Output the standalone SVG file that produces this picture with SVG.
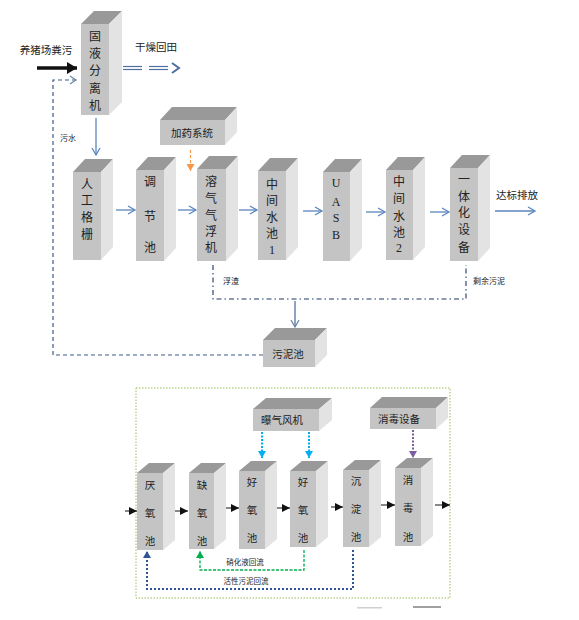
<svg xmlns="http://www.w3.org/2000/svg" width="579" height="620" viewBox="0 0 579 620">
<defs>
<style>
.f{fill:#c4c4c4}
.t{fill:#999999}
.s{fill:#e3e3e3}
text{font-family:"Liberation Sans","Noto Sans CJK SC",sans-serif;fill:#222;text-anchor:middle}
.c{font-size:12px}
.cb{font-size:10.5px}
.sm{font-size:8px}
.ser{font-family:"Liberation Serif","Noto Sans CJK SC",serif;font-size:12px}
.blue{stroke:#5b86bf;stroke-width:1.3;fill:none}
</style>
<marker id="open" markerWidth="10" markerHeight="10" refX="8" refY="5" orient="auto" markerUnits="userSpaceOnUse">
<path d="M1,1 L8,5 L1,9" fill="none" stroke="#5b86bf" stroke-width="1.3"/>
</marker>
<marker id="openS" markerWidth="10" markerHeight="10" refX="8" refY="5" orient="auto" markerUnits="userSpaceOnUse">
<path d="M1,1 L8,5 L1,9" fill="none" stroke="#6a85aa" stroke-width="1.3"/>
</marker>
<marker id="blk" markerWidth="10" markerHeight="8" refX="8" refY="4" orient="auto" markerUnits="userSpaceOnUse">
<path d="M0,0 L8,4 L0,8 Z" fill="#111"/>
</marker>
<marker id="bigblk" markerWidth="12" markerHeight="12" refX="10" refY="6" orient="auto" markerUnits="userSpaceOnUse">
<path d="M0,0 L10,6 L0,12 Z" fill="#111"/>
</marker>
<marker id="org" markerWidth="10" markerHeight="8" refX="4" refY="7" orient="0" markerUnits="userSpaceOnUse">
<path d="M0,0 L4,7 L8,0 Z" fill="#f79646"/>
</marker>
<marker id="cyan" markerWidth="10" markerHeight="8" refX="4" refY="7" orient="0" markerUnits="userSpaceOnUse">
<path d="M0,0 L4,7 L8,0 Z" fill="#00b0f0"/>
</marker>
<marker id="purp" markerWidth="10" markerHeight="8" refX="4" refY="7" orient="0" markerUnits="userSpaceOnUse">
<path d="M0,0 L4,7 L8,0 Z" fill="#7b5fa0"/>
</marker>
<marker id="grn" markerWidth="10" markerHeight="8" refX="4" refY="1" orient="0" markerUnits="userSpaceOnUse">
<path d="M0,8 L4,1 L8,8 Z" fill="#00b050"/>
</marker>
<marker id="nav" markerWidth="10" markerHeight="8" refX="4" refY="1" orient="0" markerUnits="userSpaceOnUse">
<path d="M0,8 L4,1 L8,8 Z" fill="#2f5597"/>
</marker>
</defs>

<!-- bottom frame -->
<rect x="136" y="388" width="314" height="210" fill="none" stroke="#9bbb59" stroke-width="1" stroke-dasharray="1.5,1.5"/>

<g id="connectors">
<!-- top inputs -->
<line x1="37" y1="68" x2="77" y2="68" stroke="#111" stroke-width="3.5" marker-end="url(#bigblk)"/>
<polyline points="270,355 53,355 53,80 76,80" fill="none" stroke="#3d5a85" stroke-width="1.2" stroke-dasharray="4,3"/>
<path d="M70,76 L76,80 L70,84" fill="none" stroke="#6a85aa" stroke-width="1.2"/>
<g stroke="#4f6f9f" stroke-width="1.2">
<line x1="123" y1="66.5" x2="142" y2="66.5"/><line x1="123" y1="69.5" x2="142" y2="69.5"/>
<line x1="149" y1="66.5" x2="168" y2="66.5"/><line x1="149" y1="69.5" x2="168" y2="69.5"/>
</g>
<path d="M172,63 L179,68 L172,73" fill="none" stroke="#4f6f9f" stroke-width="2"/>
<line x1="96" y1="118" x2="96" y2="155" class="blue" marker-end="url(#open)"/>
<line x1="190.5" y1="150" x2="190.5" y2="171" stroke="#f79646" stroke-width="1.2" stroke-dasharray="3,2" marker-end="url(#org)"/>
<!-- top row arrows -->
<line x1="116" y1="210" x2="135" y2="210" class="blue" marker-end="url(#open)"/>
<line x1="178" y1="210" x2="196" y2="210" class="blue" marker-end="url(#open)"/>
<line x1="239" y1="210" x2="257" y2="210" class="blue" marker-end="url(#open)"/>
<line x1="303" y1="211" x2="322" y2="211" class="blue" marker-end="url(#open)"/>
<line x1="366" y1="212" x2="385" y2="212" class="blue" marker-end="url(#open)"/>
<line x1="430" y1="212" x2="449" y2="212" class="blue" marker-end="url(#open)"/>
<line x1="495" y1="211" x2="535" y2="211" class="blue" marker-end="url(#open)"/>
<!-- sludge lines -->
<polyline points="213,265 213,299 466,299 466,265" fill="none" stroke="#1f3864" stroke-width="1.1" stroke-dasharray="5,3,1.5,3"/>
<line x1="295" y1="301" x2="295" y2="327" stroke="#6a85aa" stroke-width="1.5" marker-end="url(#openS)"/>
<!-- bottom -->
<line x1="262" y1="432" x2="262" y2="458" stroke="#00b0f0" stroke-width="2" stroke-dasharray="2,1.5" marker-end="url(#cyan)"/>
<line x1="309" y1="432" x2="309" y2="458" stroke="#00b0f0" stroke-width="2" stroke-dasharray="2,1.5" marker-end="url(#cyan)"/>
<line x1="413" y1="430" x2="413" y2="458" stroke="#7b5fa0" stroke-width="2" stroke-dasharray="2,1.5" marker-end="url(#purp)"/>
<line x1="125" y1="511" x2="137" y2="511" stroke="#111" stroke-width="1" marker-end="url(#blk)"/>
<line x1="175" y1="511" x2="188" y2="511" stroke="#111" stroke-width="1" marker-end="url(#blk)"/>
<line x1="224" y1="508" x2="239" y2="508" stroke="#111" stroke-width="1" marker-end="url(#blk)"/>
<line x1="276" y1="508" x2="290" y2="508" stroke="#111" stroke-width="1" marker-end="url(#blk)"/>
<line x1="331" y1="507" x2="343" y2="507" stroke="#111" stroke-width="1" marker-end="url(#blk)"/>
<line x1="381" y1="505" x2="395" y2="505" stroke="#111" stroke-width="1" marker-end="url(#blk)"/>
<line x1="435" y1="505" x2="450" y2="505" stroke="#111" stroke-width="1" marker-end="url(#blk)"/>
<polyline points="304,550 304,570 200,570 200,551" fill="none" stroke="#00b050" stroke-width="1.3" stroke-dasharray="3,1.5" marker-end="url(#grn)"/>
<polyline points="353,550 353,589 147,589 147,551" fill="none" stroke="#2f5597" stroke-width="2" stroke-dasharray="2,2" marker-end="url(#nav)"/>
</g>

<!-- labels -->
<text x="46" y="54" class="cb">养猪场粪污</text>
<text x="156" y="51" class="cb">干燥回田</text>
<text x="68" y="141" class="sm">污水</text>
<text x="517" y="199" class="cb">达标排放</text>
<text x="231" y="284" class="sm">浮渣</text>
<text x="489" y="284" class="sm">剩余污泥</text>
<text x="245" y="565" style="font-size:7.5px">硝化液回流</text>
<text x="246" y="584" style="font-size:7.5px">活性污泥回流</text>

<g id="n_gyfl">
<polygon class="t" points="81,24 94,11 122,11 109,24"/>
<polygon class="s" points="109,24 122,11 122,102 109,115"/>
<rect class="f" x="81" y="24" width="28" height="91"/>
<text class="c" x="95"><tspan y="41">固</tspan><tspan x="95" y="58">液</tspan><tspan x="95" y="75">分</tspan><tspan x="95" y="93">离</tspan><tspan x="95" y="110">机</tspan></text>
</g>

<g id="n_jyxt">
<polygon class="t" points="160,120 172,107 237,107 225,120"/>
<polygon class="s" points="225,120 237,107 237,132 225,145"/>
<rect class="f" x="160" y="120" width="65" height="25"/>
<text class="cb" x="192" y="137">加药系统</text>
</g>

<g id="n_rggs">
<polygon class="t" points="73,172 85,159 113,159 101,172"/>
<polygon class="s" points="101,172 113,159 113,247 101,260"/>
<rect class="f" x="73" y="172" width="28" height="88"/>
<text class="c" x="87"><tspan y="189">人</tspan><tspan x="87" y="205">工</tspan><tspan x="87" y="222">格</tspan><tspan x="87" y="239">栅</tspan></text>
</g>

<g id="n_tjc">
<polygon class="t" points="136,170 148,157 176,157 164,170"/>
<polygon class="s" points="164,170 176,157 176,248 164,261"/>
<rect class="f" x="136" y="170" width="28" height="91"/>
<text class="c" x="150"><tspan y="186">调</tspan><tspan x="150" y="221">节</tspan><tspan x="150" y="252">池</tspan></text>
</g>

<g id="n_rqqf">
<polygon class="t" points="197,169 209,156 238,156 226,169"/>
<polygon class="s" points="226,169 238,156 238,248 226,261"/>
<rect class="f" x="197" y="169" width="29" height="92"/>
<text class="c" x="211"><tspan y="186">溶</tspan><tspan x="211" y="203">气</tspan><tspan x="211" y="220">气</tspan><tspan x="211" y="236">浮</tspan><tspan x="211" y="252">机</tspan></text>
</g>

<g id="n_zjsc1">
<polygon class="t" points="258,171 270,158 298,158 286,171"/>
<polygon class="s" points="286,171 298,158 298,247 286,260"/>
<rect class="f" x="258" y="171" width="28" height="89"/>
<text class="c" x="272"><tspan y="189">中</tspan><tspan x="272" y="205">间</tspan><tspan x="272" y="222">水</tspan><tspan x="272" y="238">池</tspan></text>
<text class="ser" x="272" y="254">1</text>
</g>

<g id="n_uasb">
<polygon class="t" points="323,172 335,159 362,159 350,172"/>
<polygon class="s" points="350,172 362,159 362,248 350,261"/>
<rect class="f" x="323" y="172" width="27" height="89"/>
<text class="ser" x="336"><tspan y="187">U</tspan><tspan x="336" y="206">A</tspan><tspan x="336" y="222">S</tspan><tspan x="336" y="239">B</tspan></text>
</g>

<g id="n_zjsc2">
<polygon class="t" points="386,170 398,157 425,157 413,170"/>
<polygon class="s" points="413,170 425,157 425,247 413,260"/>
<rect class="f" x="386" y="170" width="27" height="90"/>
<text class="c" x="399"><tspan y="186">中</tspan><tspan x="399" y="203">间</tspan><tspan x="399" y="221">水</tspan><tspan x="399" y="237">池</tspan></text>
<text class="ser" x="399" y="252">2</text>
</g>

<g id="n_ythsb">
<polygon class="t" points="450,168 462,155 490,155 478,168"/>
<polygon class="s" points="478,168 490,155 490,248 478,261"/>
<rect class="f" x="450" y="168" width="28" height="93"/>
<text class="c" x="464"><tspan y="184">一</tspan><tspan x="464" y="201">体</tspan><tspan x="464" y="217">化</tspan><tspan x="464" y="234">设</tspan><tspan x="464" y="252">备</tspan></text>
</g>

<g id="n_wnc">
<polygon class="t" points="263,340 275,328 327,328 315,340"/>
<polygon class="s" points="315,340 327,328 327,355 315,367"/>
<rect class="f" x="263" y="340" width="52" height="27"/>
<text class="cb" x="288" y="358">污泥池</text>
</g>

<g id="n_bqfj">
<polygon class="t" points="253,409 266,398 332,398 319,409"/>
<polygon class="s" points="319,409 332,398 332,420 319,431"/>
<rect class="f" x="253" y="409" width="66" height="22"/>
<text class="cb" x="282" y="424">曝气风机</text>
</g>

<g id="n_xdsb">
<polygon class="t" points="370,408 382,397 448,397 436,408"/>
<polygon class="s" points="436,408 448,397 448,418 436,429"/>
<rect class="f" x="370" y="408" width="66" height="21"/>
<text class="cb" x="399" y="423">消毒设备</text>
</g>

<g id="n_yyc">
<polygon class="t" points="137,473 149,463 175,463 163,473"/>
<polygon class="s" points="163,473 175,463 175,540 163,550"/>
<rect class="f" x="137" y="473" width="26" height="77"/>
<text class="cb" x="150"><tspan y="489">厌</tspan><tspan x="150" y="517">氧</tspan><tspan x="150" y="545">池</tspan></text>
</g>

<g id="n_qyc">
<polygon class="t" points="189,473 201,463 226,463 214,473"/>
<polygon class="s" points="214,473 226,463 226,539 214,549"/>
<rect class="f" x="189" y="473" width="25" height="76"/>
<text class="cb" x="202"><tspan y="489">缺</tspan><tspan x="202" y="517">氧</tspan><tspan x="202" y="545">池</tspan></text>
</g>

<g id="n_hyc1">
<polygon class="t" points="239,471 251,461 277,461 265,471"/>
<polygon class="s" points="265,471 277,461 277,539 265,549"/>
<rect class="f" x="239" y="471" width="26" height="78"/>
<text class="cb" x="252"><tspan y="486">好</tspan><tspan x="252" y="514">氧</tspan><tspan x="252" y="542">池</tspan></text>
</g>

<g id="n_hyc2">
<polygon class="t" points="290,471 302,461 328,461 316,471"/>
<polygon class="s" points="316,471 328,461 328,537 316,547"/>
<rect class="f" x="290" y="471" width="26" height="76"/>
<text class="cb" x="303"><tspan y="486">好</tspan><tspan x="303" y="514">氧</tspan><tspan x="303" y="542">池</tspan></text>
</g>

<g id="n_cdc">
<polygon class="t" points="343,470 355,460 381,460 369,470"/>
<polygon class="s" points="369,470 381,460 381,537 369,547"/>
<rect class="f" x="343" y="470" width="26" height="77"/>
<text class="cb" x="356"><tspan y="485">沉</tspan><tspan x="356" y="513">淀</tspan><tspan x="356" y="541">池</tspan></text>
</g>

<g id="n_xdc">
<polygon class="t" points="395,468 407,458 433,458 421,468"/>
<polygon class="s" points="421,468 433,458 433,536 421,546"/>
<rect class="f" x="395" y="468" width="26" height="78"/>
<text class="cb" x="408"><tspan y="484">消</tspan><tspan x="408" y="512">毒</tspan><tspan x="408" y="541">池</tspan></text>
</g>

<rect x="357" y="607" width="25" height="1.5" fill="#d0d0d0"/>
<rect x="413" y="606" width="28" height="2" fill="#a0a0a0"/>
</svg>
